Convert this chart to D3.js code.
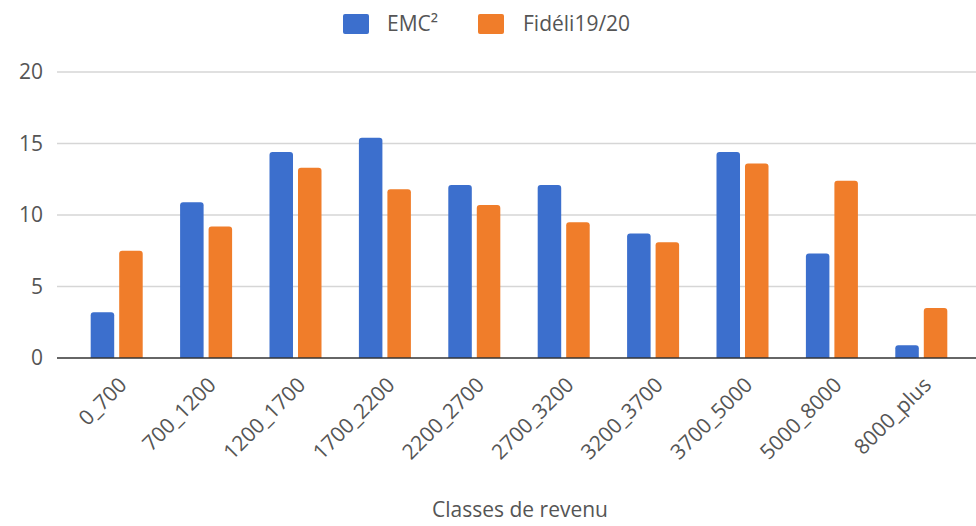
<!DOCTYPE html>
<html>
<head>
<meta charset="utf-8">
<script src="https://cdn.jsdelivr.net/npm/d3@7"></script>
<style>
  body { margin: 0; background: #fff; }
  text { font-family: "Open Sans", "Noto Sans", sans-serif; fill: #555; }
</style>
</head>
<body>
<svg id="chart" width="976" height="526"></svg>
<script>
'use strict';

// data
const categories = ['0_700', '700_1200', '1200_1700', '1700_2200', '2200_2700',
  '2700_3200', '3200_3700', '3700_5000', '5000_8000', '8000_plus'];
const seriesNames = ['EMC²', 'Fidéli19/20'];
const emcValues = [3.2, 10.9, 14.4, 15.4, 12.1, 12.1, 8.7, 14.4, 7.3, 0.9];
const fideliValues = [7.5, 9.2, 13.3, 11.8, 10.7, 9.5, 8.1, 13.6, 12.4, 3.5];
const yTicks = [0, 5, 10, 15, 20];
const colors = ['#3c6fcd', '#f07d2a'];

const svg = d3.select('#chart');

const grid = { left: 57, right: 976 };
const x = d3.scaleBand().domain(categories).range([72, 966]).paddingInner(0).paddingOuter(0);
const xs = d3.scaleBand().domain(seriesNames).range([0, x.bandwidth()]).paddingInner(0.175).paddingOuter(0.656);
const y = d3.scaleLinear().domain([0, 20]).range([358, 72]);

// gridlines
svg.append('g')
  .selectAll('line')
  .data(yTicks.filter(d => d !== 0))
  .enter()
  .append('line')
  .attr('x1', grid.left)
  .attr('x2', grid.right)
  .attr('y1', d => y(d))
  .attr('y2', d => y(d))
  .attr('stroke', '#d6d6d6')
  .attr('stroke-width', 1.5);

// y labels
svg.append('g')
  .selectAll('text')
  .data(yTicks)
  .enter()
  .append('text')
  .attr('x', 43)
  .attr('y', d => y(d))
  .attr('dy', '0.35em')
  .attr('text-anchor', 'end')
  .attr('font-size', 21)
  .text(d => d);

// bars
const rows = categories.map((c, i) => ({ cat: c, vals: [emcValues[i], fideliValues[i]] }));
const groups = svg.append('g')
  .selectAll('g')
  .data(rows)
  .enter()
  .append('g')
  .attr('transform', d => `translate(${x(d.cat)},0)`);

groups.selectAll('path')
  .data(d => d.vals.map((v, k) => ({ name: seriesNames[k], value: v, k })))
  .enter()
  .append('path')
  .attr('fill', d => colors[d.k])
  .attr('d', d => {
    const x0 = xs(d.name);
    const w = xs.bandwidth();
    const top = y(d.value);
    const r = Math.min(3, (y(0) - top) / 2);
    return `M${x0},${y(0)}V${top + r}Q${x0},${top} ${x0 + r},${top}H${x0 + w - r}Q${x0 + w},${top} ${x0 + w},${top + r}V${y(0)}Z`;
  });

// baseline
svg.append('line')
  .attr('x1', grid.left)
  .attr('x2', grid.right)
  .attr('y1', y(0))
  .attr('y2', y(0))
  .attr('stroke', '#333')
  .attr('stroke-width', 1.5);

// x labels
svg.append('g')
  .selectAll('text')
  .data(categories)
  .enter()
  .append('text')
  .attr('transform', d => `translate(${x(d) + x.bandwidth() / 2 + 6},${y(0) + 23}) rotate(-45)`)
  .attr('text-anchor', 'end')
  .attr('dy', '0.35em')
  .attr('font-size', 21)
  .text(d => d);

// x title
svg.append('text')
  .attr('x', 520)
  .attr('y', 517)
  .attr('text-anchor', 'middle')
  .attr('font-size', 21)
  .text('Classes de revenu');

// legend
const legendItems = [
  { name: seriesNames[0], color: colors[0], x: 343, tx: 387 },
  { name: seriesNames[1], color: colors[1], x: 478, tx: 523 }
];
const legend = svg.append('g');
legend.selectAll('rect')
  .data(legendItems)
  .enter()
  .append('rect')
  .attr('x', d => d.x)
  .attr('y', 14)
  .attr('width', 26)
  .attr('height', 20)
  .attr('rx', 2)
  .attr('fill', d => d.color);
legend.selectAll('text')
  .data(legendItems)
  .enter()
  .append('text')
  .attr('x', d => d.tx)
  .attr('y', 24)
  .attr('dy', '0.35em')
  .attr('font-size', 21)
  .text(d => d.name);
</script>
</body>
</html>
